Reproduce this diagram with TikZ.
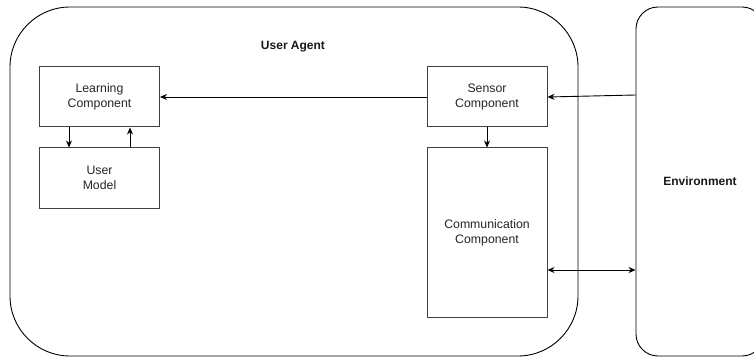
\documentclass[tikz,border=0pt]{standalone}
\usepackage{fontspec}
\setmainfont{Liberation Sans}
\usetikzlibrary{arrows.meta,calc}
\begin{document}
\begin{tikzpicture}[x=1pt,y=-1pt,
  container/.style={draw=black,line width=0.9pt,rectangle,inner sep=0pt},
  comp/.style={draw=black!75,line width=1pt,rectangle,minimum width=120pt,inner sep=0pt,align=center,font=\fontsize{12.3}{15}\selectfont,text=black!85},
  arr/.style={-{Stealth[length=7pt,width=6pt]},line width=0.9pt,black},
  arrb/.style={{Stealth[length=7pt,width=6pt]}-{Stealth[length=7pt,width=6pt]},line width=0.9pt,black},
  ttl/.style={font=\bfseries\fontsize{12}{14}\selectfont,text=black!90}]
\useasboundingbox (0,0) rectangle (754,358);
\clip (0,0) rectangle (754,358);
\fill[white] (0,0) rectangle (754,358);
\node[container,rounded corners=60pt,minimum width=568pt,minimum height=349pt] (ua) at (294,181.5) {};
\node[container,rounded corners=22pt,minimum width=128pt,minimum height=349pt,ttl] (env) at (700,181.5) {Environment};
\node[ttl] (uat) at (293,47) {User Agent};
\node[comp,minimum height=60pt] (learn) at (99.5,97) {Learning\\Component};
\node[comp,minimum height=60pt] (um) at (99.5,178) {User\\Model};
\node[comp,minimum height=60pt] (sensor) at (487,97) {Sensor\\Component};
\node[comp,minimum height=169pt] (comm) at (487,232.5) {Communication\\Component};
\coordinate (c1) at (547,270);
\draw[arr] (sensor.west) -- (learn.east);
\draw[arr] ([xshift=-30.5pt]learn.south) -- ([xshift=-30.5pt]um.north);
\draw[arr] ([xshift=30.5pt]um.north) -- ([xshift=30.5pt]learn.south);
\draw[arr] (sensor.south) -- (comm.north);
\draw[arr] ([yshift=2pt]env.west |- sensor.east) -- (sensor.east);
\draw[arrb] (comm.east |- c1) -- (env.west |- c1);
\end{tikzpicture}
\end{document}
